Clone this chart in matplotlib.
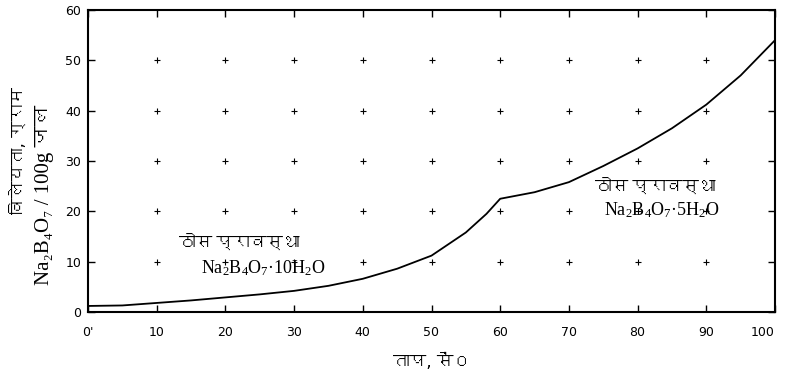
import matplotlib
matplotlib.use("Agg")
import matplotlib.pyplot as plt
from matplotlib import font_manager
from matplotlib.ft2font import FT2Font

# solubility curve of Na2B4O7 (g / 100 g water) vs temperature (deg C)
temp = [0, 5, 10, 15, 20, 25, 30, 35, 40, 45, 50, 55, 58, 60, 65, 70, 75, 80, 85, 90, 95, 100]
solubility = [1.2, 1.3, 1.8, 2.3, 2.9, 3.5, 4.2, 5.2, 6.6, 8.6, 11.2, 15.8, 19.5, 22.5,
              23.8, 25.8, 29.0, 32.5, 36.5, 41.2, 47.0, 54.0]

x_ticks = [0, 10, 20, 30, 40, 50, 60, 70, 80, 90, 100]
x_labels = ["0'", "10", "20", "30", "40", "50", "60", "70", "80", "90", "100"]
y_ticks = [0, 10, 20, 30, 40, 50, 60]
grid_x = [10, 20, 30, 40, 50, 60, 70, 80, 90]
grid_y = [10, 20, 30, 40, 50]

x_title = "ताप, सें०"
y_title_top = "विलेयता, ग्राम"
y_title_main = "Na₂B₄O₇ / 100g जल"
phase_low = ["ठोस प्रावस्था", r"Na$_2$B$_4$O$_7$·10H$_2$O"]
phase_high = ["ठोस प्रावस्था", r"Na$_2$B$_4$O$_7$·5H$_2$O"]


def find_devanagari_font():
    # look for any installed font that can draw Devanagari
    for f in font_manager.fontManager.ttflist:
        try:
            cmap = FT2Font(f.fname).get_charmap()
        except Exception:
            continue
        if 0x0924 in cmap and 0x093E in cmap:
            return f.name
    return None


deva = find_devanagari_font()
serif = ["Liberation Serif"] + ([deva] if deva else []) + ["DejaVu Serif"]
sans = ["DejaVu Sans"] + ([deva] if deva else [])

plt.rcParams["mathtext.fontset"] = "custom"
plt.rcParams["mathtext.rm"] = "Liberation Serif"
plt.rcParams["mathtext.it"] = "Liberation Serif:italic"

fig = plt.figure(figsize=(7.85, 3.74), dpi=100)
ax = fig.add_axes([88 / 785, 1 - 312 / 374, 687 / 785, 302 / 374])

ax.plot(temp, solubility, color="black", lw=1.3)

gx = [x for x in grid_x for _ in grid_y]
gy = [y for _ in grid_x for y in grid_y]
ax.plot(gx, gy, ls="none", marker="+", ms=4, mew=0.8, color="black")

ax.set_xlim(0, 100)
ax.set_ylim(0, 60)
ax.set_xticks(x_ticks)
ax.set_xticklabels(x_labels)
ax.set_yticks(y_ticks)
ax.tick_params(direction="in", length=5, width=1, labelsize=9,
               top=True, right=True)
ax.tick_params(axis="x", pad=10)
ax.tick_params(axis="y", pad=5)
for lab in ax.get_xticklabels() + ax.get_yticklabels():
    lab.set_family("DejaVu Sans")
ax.get_xticklabels()[-1].set_horizontalalignment("right")
for sp in ax.spines.values():
    sp.set_linewidth(1.5)

ax.text(0.5, -0.135, x_title, transform=ax.transAxes, ha="center", va="top",
        fontsize=12, family=sans)
fig.text(19 / 785, 1 - 150 / 374, y_title_top, rotation=90, ha="center", va="center",
         fontsize=12, family=sans)
fig.text(45 / 785, 1 - 195 / 374, y_title_main, rotation=90, ha="center", va="center",
         fontsize=15, family=serif)

ax.text(22.0, 13.6, phase_low[0], ha="center", va="center", fontsize=12, family=serif)
ax.text(25.5, 8.7, phase_low[1], ha="center", va="center", fontsize=13, family=serif)
ax.text(82.5, 24.8, phase_high[0], ha="center", va="center", fontsize=12, family=serif)
ax.text(83.5, 20.2, phase_high[1], ha="center", va="center", fontsize=13, family=serif)

fig.savefig("out.png", dpi=100)
